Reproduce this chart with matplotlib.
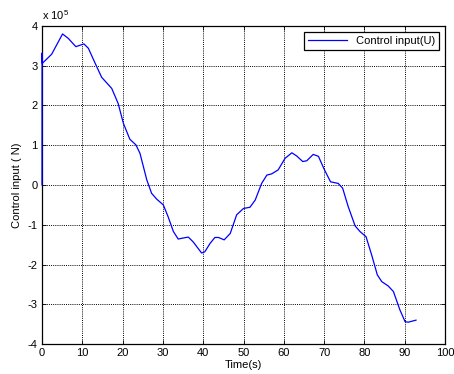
import matplotlib
matplotlib.use("Agg")
import matplotlib.pyplot as plt

plt.rcParams['font.family'] = ['Liberation Sans', 'DejaVu Sans']
plt.rcParams['mathtext.fontset'] = 'custom'
plt.rcParams['mathtext.rm'] = 'Liberation Sans'

# time (s)
t = [0.0, 0.02, 0.07, 2.4, 5.1, 6.5, 8.4, 10.4, 11.5, 13.2, 14.8, 17.3, 18.9,
     20.2, 21.8, 23.3, 24.3, 26.0, 27.2, 28.5, 30.1, 31.3, 32.6, 33.8, 34.7,
     36.3, 37.5, 39.6, 40.4, 41.7, 42.9, 43.8, 45.2, 46.7, 48.3, 50.0, 51.6,
     52.9, 54.5, 55.8, 57.0, 58.6, 60.3, 62.0, 63.2, 64.7, 65.7, 67.3, 68.6,
     70.0, 71.6, 73.5, 74.6, 76.0, 77.7, 78.9, 80.4, 81.8, 83.2, 84.3, 85.9,
     87.2, 88.8, 90.1, 90.9, 92.8]
# control input (x 1e5 N)
u = [0.0, 3.32, 3.06, 3.29, 3.80, 3.69, 3.48, 3.55, 3.44, 3.06, 2.71, 2.43, 2.05,
     1.55, 1.15, 1.01, 0.80, 0.13, -0.21, -0.36, -0.50, -0.80, -1.17, -1.36, -1.34,
     -1.31, -1.43, -1.71, -1.68, -1.47, -1.32, -1.32, -1.38, -1.22, -0.75, -0.59, -0.56,
     -0.38, 0.04, 0.25, 0.28, 0.38, 0.67, 0.81, 0.73, 0.59, 0.61, 0.77, 0.72,
     0.40, 0.08, 0.04, -0.08, -0.55, -1.03, -1.17, -1.30, -1.76, -2.26, -2.43, -2.54,
     -2.68, -3.14, -3.44, -3.45, -3.40]

xticks = [0, 10, 20, 30, 40, 50, 60, 70, 80, 90, 100]
yticks = [-4, -3, -2, -1, 0, 1, 2, 3, 4]

fig = plt.figure(figsize=(4.54, 3.74), dpi=100)
ax = fig.add_axes([0.0925, 0.0802, 0.8877, 0.8503])
ax.plot(t, [v * 1e5 for v in u], color='#0000ff', lw=0.9, label='Control input(U)',
        zorder=3, clip_on=False)
ax.set_xlim(0, 100)
ax.set_ylim(-4e5, 4e5)
ax.set_xticks(xticks)
ax.set_xticklabels([str(x) for x in xticks])
ax.set_yticks([y * 1e5 for y in yticks])
ax.set_yticklabels([str(y) for y in yticks])
ax.tick_params(direction='in', labelsize=8, length=3, width=0.6, top=True, right=True, pad=3)
ax.grid(True, color='black', linestyle=(0, (1, 1.2)), linewidth=0.7)
for s in ax.spines.values():
    s.set_linewidth(0.9)
ax.text(0.0, 1.012, r'x 10$^{5}$', transform=ax.transAxes, fontsize=8, ha='left', va='bottom')
ax.set_xlabel('Time(s)', fontsize=8, labelpad=1)
ax.set_ylabel('Control input ( N)', fontsize=8, labelpad=4)
leg = ax.legend(loc='upper right', fontsize=8, fancybox=False, framealpha=1,
                edgecolor='black', borderaxespad=0.5, handlelength=3.5, borderpad=0.4)
leg.get_frame().set_linewidth(0.9)
fig.savefig('out.png', dpi=100)
